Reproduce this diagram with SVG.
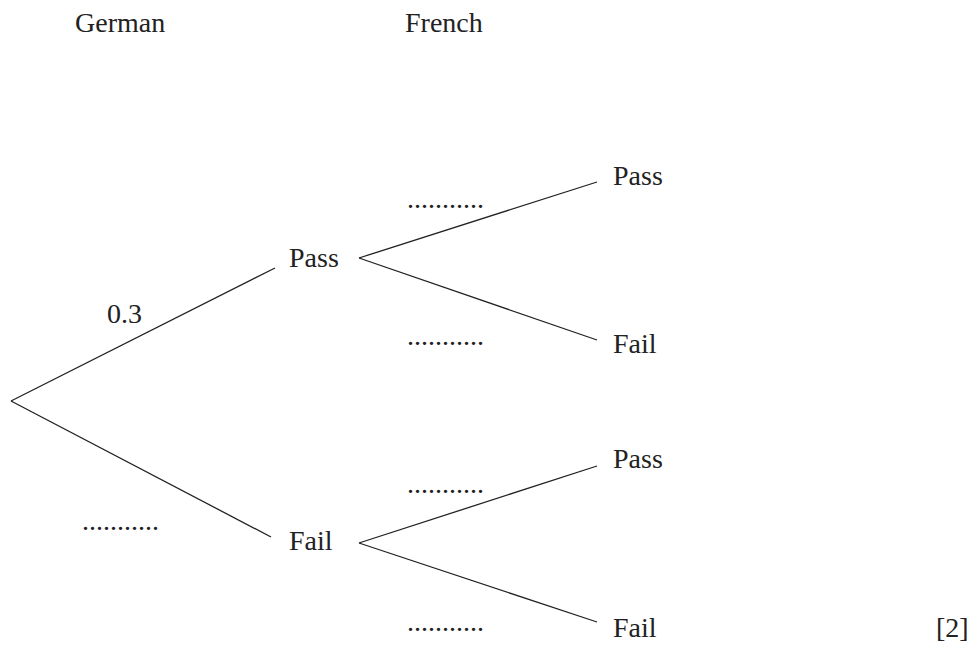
<svg xmlns="http://www.w3.org/2000/svg" width="979" height="648" viewBox="0 0 979 648">
<style>
text{font-family:"Liberation Serif","Times New Roman",serif;font-size:28px;fill:#222}
.c line{stroke:#222;stroke-width:1.3;fill:none}
</style>
<rect width="979" height="648" fill="#fff"/>
<g id="headers">
<text x="75" y="32">German</text>
<text x="405" y="32">French</text>
</g>
<g class="c" id="connectors">
<line x1="11" y1="401" x2="275" y2="268"/>
<line x1="11" y1="401" x2="271" y2="537"/>
<line x1="359" y1="258" x2="597" y2="182"/>
<line x1="359" y1="258" x2="597" y2="340"/>
<line x1="359" y1="543" x2="597" y2="466"/>
<line x1="359" y1="543" x2="597" y2="622"/>
</g>
<g id="g-pass"><text x="289" y="267">Pass</text></g>
<g id="g-fail"><text x="289" y="550">Fail</text></g>
<g id="pp"><text x="613" y="185">Pass</text></g>
<g id="pf"><text x="613" y="353">Fail</text></g>
<g id="fp"><text x="613" y="468">Pass</text></g>
<g id="ff"><text x="613" y="637">Fail</text></g>
<g id="labels">
<text x="107" y="323">0.3</text>
<text x="82" y="530">...........</text>
<text x="407" y="208">...........</text>
<text x="407" y="345">...........</text>
<text x="407" y="493">...........</text>
<text x="407" y="631">...........</text>
<text x="936" y="637">[2]</text>
</g>
</svg>
